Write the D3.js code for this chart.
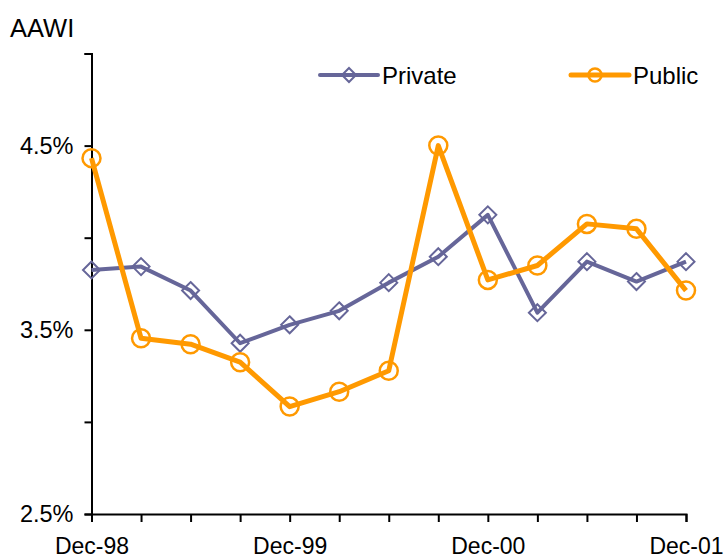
<!DOCTYPE html>
<html>
<head>
<meta charset="utf-8">
<script src="https://cdn.jsdelivr.net/npm/d3@7"></script>
<style>
  html, body { margin: 0; padding: 0; background: #fff; }
  svg { display: block; font-family: "Liberation Sans", Arial, sans-serif; }
</style>
</head>
<body>
<svg id="chart" width="724" height="559"></svg>
<script>
const categories = ["Dec-98","Mar-99","Jun-99","Sep-99","Dec-99","Mar-00","Jun-00","Sep-00","Dec-00","Mar-01","Jun-01","Sep-01","Dec-01"];
const privateValues = [3.825, 3.843, 3.713, 3.427, 3.527, 3.603, 3.756, 3.897, 4.124, 3.593, 3.870, 3.762, 3.870];
const publicValues  = [4.432, 3.454, 3.422, 3.324, 3.083, 3.164, 3.278, 4.500, 3.771, 3.849, 4.075, 4.048, 3.713];
const xTickLabels = ["Dec-98","Dec-99","Dec-00","Dec-01"];
const yTicks = [2.5, 3.0, 3.5, 4.0, 4.5, 5.0];
const yTickLabels = [2.5, 3.5, 4.5];
const seriesNames = ["Private", "Public"];
const seriesColors = ["#666699", "#FF9900"];

const svg = d3.select("#chart");
const x = d3.scalePoint().domain(categories).range([91.5, 686]);
const y = d3.scaleLinear().domain([2.5, 5.0]).range([514, 53.5]);

// Y axis
const yAxis = d3.axisLeft(y)
  .tickValues(yTicks)
  .tickSize(7)
  .tickPadding(11)
  .tickFormat(d => yTickLabels.includes(d) ? d.toFixed(1) + "%" : "");
const gy = svg.append("g").attr("transform", `translate(${x(categories[0])},0)`).call(yAxis);
gy.select(".domain").attr("stroke", "#000").attr("stroke-width", 2);
gy.selectAll(".tick line").attr("stroke", "#000").attr("stroke-width", 2);
gy.selectAll(".tick text").attr("font-size", 23.5).attr("fill", "#000")
  .attr("font-family", "Liberation Sans, Arial, sans-serif");

// X axis
const xAxis = d3.axisBottom(x)
  .tickSize(8)
  .tickPadding(16)
  .tickFormat(d => xTickLabels.includes(d) ? d : "");
const gx = svg.append("g").attr("transform", `translate(0,${y(2.5)})`).call(xAxis);
gx.select(".domain").attr("stroke", "#000").attr("stroke-width", 2);
gx.selectAll(".tick line").attr("stroke", "#000").attr("stroke-width", 2);
gx.selectAll(".tick text").attr("font-size", 23).attr("fill", "#000")
  .attr("font-family", "Liberation Sans, Arial, sans-serif");

// Title
svg.append("text").attr("x", 10).attr("y", 37).attr("font-size", 25.5).attr("fill", "#000").text("AAWI");

const line = d3.line().x((d, i) => x(categories[i])).y(d => y(d));
const diamond = r => `M0,${-r}L${r},0L0,${r}L${-r},0Z`;

// Private series
svg.append("path").datum(privateValues)
  .attr("fill", "none").attr("stroke", seriesColors[0]).attr("stroke-width", 4)
  .attr("stroke-linejoin", "round").attr("d", line);
svg.append("g").selectAll("path").data(privateValues).join("path")
  .attr("transform", (d, i) => `translate(${x(categories[i])},${y(d)})`)
  .attr("d", diamond(8.5))
  .attr("fill", "none").attr("stroke", seriesColors[0]).attr("stroke-width", 2);

// Public series
svg.append("path").datum(publicValues)
  .attr("fill", "none").attr("stroke", seriesColors[1]).attr("stroke-width", 5)
  .attr("stroke-linejoin", "round").attr("d", line);
svg.append("g").selectAll("circle").data(publicValues).join("circle")
  .attr("cx", (d, i) => x(categories[i])).attr("cy", d => y(d)).attr("r", 9)
  .attr("fill", "none").attr("stroke", seriesColors[1]).attr("stroke-width", 2.5);

// Legend
const legend = svg.append("g");
const legendItems = [
  { name: seriesNames[0], color: seriesColors[0], x0: 320, sw: 4 },
  { name: seriesNames[1], color: seriesColors[1], x0: 571, sw: 5 }
];
legendItems.forEach((it, k) => {
  const g = legend.append("g").attr("transform", `translate(${it.x0},75)`);
  g.append("line").attr("x1", 0).attr("x2", 58).attr("y1", 0).attr("y2", 0)
    .attr("stroke", it.color).attr("stroke-width", it.sw).attr("stroke-linecap", "round");
  if (k === 0) {
    g.append("path").attr("transform", "translate(29,0)").attr("d", diamond(7))
      .attr("fill", "none").attr("stroke", it.color).attr("stroke-width", 2);
  } else {
    g.append("circle").attr("cx", 24).attr("cy", 0).attr("r", 6.5)
      .attr("fill", "none").attr("stroke", it.color).attr("stroke-width", 2.5);
  }
  g.append("text").attr("x", 62).attr("y", 9).attr("font-size", 24).attr("fill", "#000").text(it.name);
});
</script>
</body>
</html>
